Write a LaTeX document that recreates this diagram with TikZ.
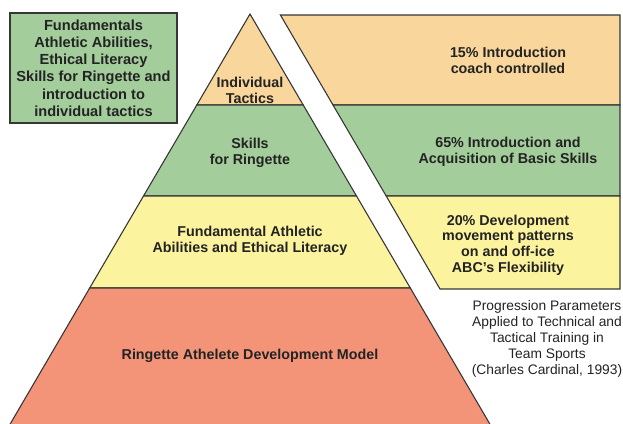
\documentclass[tikz,border=0pt]{standalone}
\usepackage{fontspec}
\setmainfont{Liberation Sans}
\definecolor{edgegray}{RGB}{55,55,55}
\definecolor{txtgray}{RGB}{35,35,35}
\definecolor{tacorange}{RGB}{249,214,155}
\definecolor{skillgreen}{RGB}{163,205,155}
\definecolor{fundyellow}{RGB}{252,243,158}
\definecolor{modelred}{RGB}{243,148,120}

\begin{document}
\begin{tikzpicture}[x=1pt,y=1pt,yscale=-1,xscale=1,
  band/.style={draw=edgegray,line width=1.1pt,line join=miter},
  boldtxt/.style={font=\bfseries\fontsize{14.3}{15.8}\selectfont,align=center,text=txtgray,inner sep=0.75pt},
  boxtxt/.style={font=\bfseries\fontsize{14.6}{17.2}\selectfont,align=center,text=txtgray,inner sep=0.75pt},
  captxt/.style={font=\fontsize{13.8}{16}\selectfont,align=center,text=txtgray,inner sep=0.75pt}]
\useasboundingbox (0,0) rectangle (623,423);

%Shape: Rectangle [id:legendbox]
\draw [band,fill=skillgreen] (10,13) rectangle (177,123) ;

%Shape: Pyramid bands
\draw [band,fill=tacorange] (250,14) -- (303.2,105) -- (196.8,105) -- cycle ;
\draw [band,fill=skillgreen] (196.8,105) -- (303.2,105) -- (356.5,196) -- (143.5,196) -- cycle ;
\draw [band,fill=fundyellow] (143.5,196) -- (356.5,196) -- (410.3,288) -- (89.7,288) -- cycle ;
\draw [band,fill=modelred] (89.7,288) -- (410.3,288) -- (491,426) -- (9,426) -- cycle ;

%Shape: Right bands
\draw [band,fill=tacorange] (280.4,15) -- (620,15) -- (620,105) -- (333,105) -- cycle ;
\draw [band,fill=skillgreen] (333,105) -- (620,105) -- (620,196) -- (386.2,196) -- cycle ;
\draw [band,fill=fundyellow] (386.2,196) -- (620,196) -- (620,289) -- (440,289) -- cycle ;

% Text Node
\node [boxtxt] (legend) at (93.5,68) {Fundamentals\\Athletic Abilities,\\Ethical Literacy\\Skills for Ringette and\\introduction to\\individual tactics};
% Text Node
\node [boldtxt] (tactics) at (250,90) {Individual\\Tactics};
% Text Node
\node [boldtxt] (skills) at (250,153) {Skills\\for Ringette};
% Text Node
\node [boldtxt] (fundamental) at (250,241) {Fundamental Athletic\\Abilities and Ethical Literacy};
% Text Node
\node [boldtxt] (model) at (250,356) {Ringette Athelete Development Model};
% Text Node
\node [boldtxt] (intro) at (508,60) {15\% Introduction\\coach controlled};
% Text Node
\node [boldtxt] (acquire) at (508,152) {65\% Introduction and\\Acquisition of Basic Skills};
% Text Node
\node [boldtxt] (develop) at (508,245) {20\% Development\\movement patterns\\on and off-ice\\ABC’s Flexibility};
% Text Node
\node [captxt] (source) at (547,339) {Progression Parameters\\Applied to Technical and\\Tactical Training in\\Team Sports\\(Charles Cardinal, 1993)};

\end{tikzpicture}
\end{document}
